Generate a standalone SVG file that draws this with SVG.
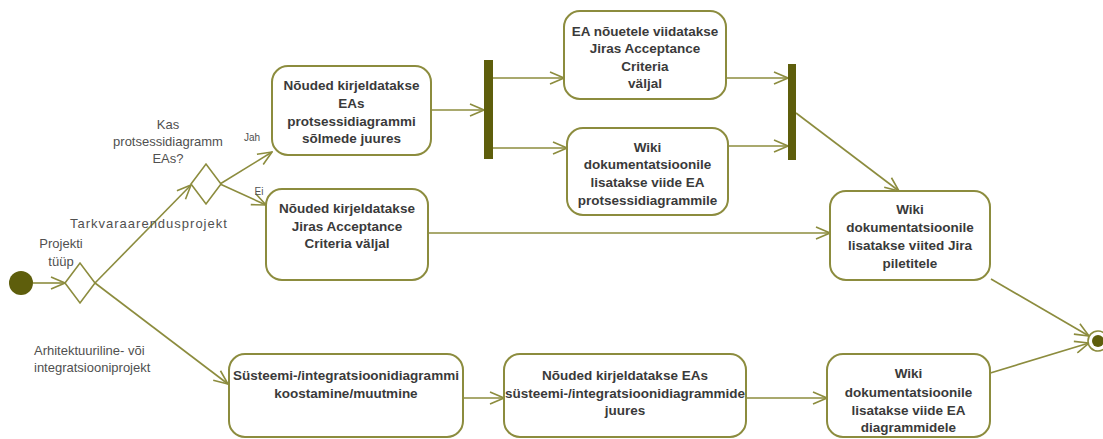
<svg xmlns="http://www.w3.org/2000/svg" width="1103" height="439" viewBox="0 0 1103 439">
<style>
.box{fill:#fff;stroke:#8c8c3e;stroke-width:2}
.bar{fill:#5e5e0c}
.dia{fill:#fff;stroke:#8c8c3e;stroke-width:1.6}
.ln{fill:none;stroke:#8c8c3e;stroke-width:1.6;marker-end:url(#arr)}
.bt{font-family:"Liberation Sans",Arial,sans-serif;font-size:13.5px;font-weight:bold;fill:#3a3a3a;text-anchor:middle}
.lb{font-family:"Liberation Sans",Arial,sans-serif;font-size:13px;fill:#505050}
.sm{font-family:"Liberation Sans",Arial,sans-serif;font-size:10px;fill:#505050}
</style>
<defs>
<marker id="arr" markerUnits="userSpaceOnUse" markerWidth="16" markerHeight="14" refX="15" refY="7" orient="auto">
<path d="M1,1 L15,7 L1,13" fill="none" stroke="#8c8c3e" stroke-width="1.6"/>
</marker>
</defs>
<rect width="1103" height="439" fill="#fff"/>
<g id="connectors">
<line class="ln" x1="33" y1="283" x2="65" y2="283"/>
<line class="ln" x1="95" y1="283" x2="191" y2="185"/>
<line class="ln" x1="95" y1="283" x2="228" y2="384"/>
<line class="ln" x1="220" y1="184" x2="272" y2="152"/>
<line class="ln" x1="220" y1="184" x2="266" y2="205"/>
<line class="ln" x1="431" y1="110" x2="484" y2="110"/>
<line class="ln" x1="493" y1="78" x2="564" y2="78"/>
<line class="ln" x1="493" y1="148" x2="567" y2="148"/>
<line class="ln" x1="726" y1="78" x2="788" y2="78"/>
<line class="ln" x1="728" y1="146" x2="788" y2="146"/>
<line class="ln" x1="796" y1="113" x2="899" y2="191"/>
<line class="ln" x1="428" y1="233" x2="830" y2="233"/>
<line class="ln" x1="991" y1="279" x2="1089" y2="336"/>
<line class="ln" x1="987" y1="374" x2="1089" y2="343"/>
<line class="ln" x1="463" y1="398" x2="504" y2="398"/>
<line class="ln" x1="746" y1="398" x2="827" y2="398"/>
</g>
<g id="labels">
<text class="lb" text-anchor="middle" x="61" y="248">Projekti</text>
<text class="lb" text-anchor="middle" x="61" y="266">tüüp</text>
<text class="lb" x="70" y="228" letter-spacing="1">Tarkvaraarendusprojekt</text>
<text class="lb" text-anchor="middle" x="168" y="129">Kas</text>
<text class="lb" text-anchor="middle" x="168" y="146">protsessidiagramm</text>
<text class="lb" text-anchor="middle" x="168" y="163">EAs?</text>
<text class="lb" x="34" y="355">Arhitektuuriline- või</text>
<text class="lb" x="34" y="372">integratsiooniprojekt</text>
<text class="sm" text-anchor="middle" x="252" y="141">Jah</text>
<text class="sm" text-anchor="middle" x="259" y="195">Ei</text>
</g>
<g id="start"><circle cx="21" cy="283" r="12" fill="#5e5e0c"/></g>
<g id="decision1"><polygon class="dia" points="65,283 80,263 95,283 80,303"/></g>
<g id="decision2"><polygon class="dia" points="191,184 206,164 221,184 206,204"/></g>
<g id="fork1"><rect class="bar" x="484" y="60" width="9" height="99"/></g>
<g id="join1"><rect class="bar" x="788" y="64" width="8" height="96"/></g>
<g id="end"><circle cx="1098" cy="341" r="10" fill="#fff" stroke="#8c8c3e" stroke-width="1.6"/><circle cx="1098" cy="341" r="6" fill="#5e5e0c"/></g>
<g id="box1">
<rect class="box" x="272" y="66" width="159" height="89" rx="16"/>
<text class="bt" x="351.5" y="90">Nõuded kirjeldatakse</text>
<text class="bt" x="351.5" y="108">EAs</text>
<text class="bt" x="351.5" y="126">protsessidiagrammi</text>
<text class="bt" x="351.5" y="143">sõlmede juures</text>
</g>
<g id="box2">
<rect class="box" x="266" y="189" width="162" height="91" rx="16"/>
<text class="bt" x="347" y="213">Nõuded kirjeldatakse</text>
<text class="bt" x="347" y="231">Jiras Acceptance</text>
<text class="bt" x="347" y="248">Criteria väljal</text>
</g>
<g id="box3">
<rect class="box" x="564" y="11" width="162" height="88" rx="16"/>
<text class="bt" x="645" y="36">EA nõuetele viidatakse</text>
<text class="bt" x="645" y="53">Jiras Acceptance</text>
<text class="bt" x="645" y="71">Criteria</text>
<text class="bt" x="645" y="88">väljal</text>
</g>
<g id="box4">
<rect class="box" x="567" y="128" width="161" height="87" rx="16"/>
<text class="bt" x="647.5" y="152">Wiki</text>
<text class="bt" x="647.5" y="169">dokumentatsioonile</text>
<text class="bt" x="647.5" y="187">lisatakse viide EA</text>
<text class="bt" x="647.5" y="205">protsessidiagrammile</text>
</g>
<g id="box5">
<rect class="box" x="830" y="191" width="160" height="89" rx="16"/>
<text class="bt" x="910" y="214">Wiki</text>
<text class="bt" x="910" y="232">dokumentatsioonile</text>
<text class="bt" x="910" y="250">lisatakse viited Jira</text>
<text class="bt" x="910" y="268">piletitele</text>
</g>
<g id="box6">
<rect class="box" x="827" y="354" width="163" height="83" rx="16"/>
<text class="bt" x="908.5" y="378">Wiki</text>
<text class="bt" x="908.5" y="397">dokumentatsioonile</text>
<text class="bt" x="908.5" y="415">lisatakse viide EA</text>
<text class="bt" x="908.5" y="432">diagrammidele</text>
</g>
<g id="box7">
<rect class="box" x="229" y="354" width="234" height="83" rx="16"/>
<text class="bt" x="346" y="380">Süsteemi-/integratsioonidiagrammi</text>
<text class="bt" x="346" y="398">koostamine/muutmine</text>
</g>
<g id="box8">
<rect class="box" x="504" y="354" width="242" height="83" rx="16"/>
<text class="bt" x="625" y="380">Nõuded kirjeldatakse EAs</text>
<text class="bt" x="625" y="398">süsteemi-/integratsioonidiagrammide</text>
<text class="bt" x="625" y="415">juures</text>
</g>
</svg>
